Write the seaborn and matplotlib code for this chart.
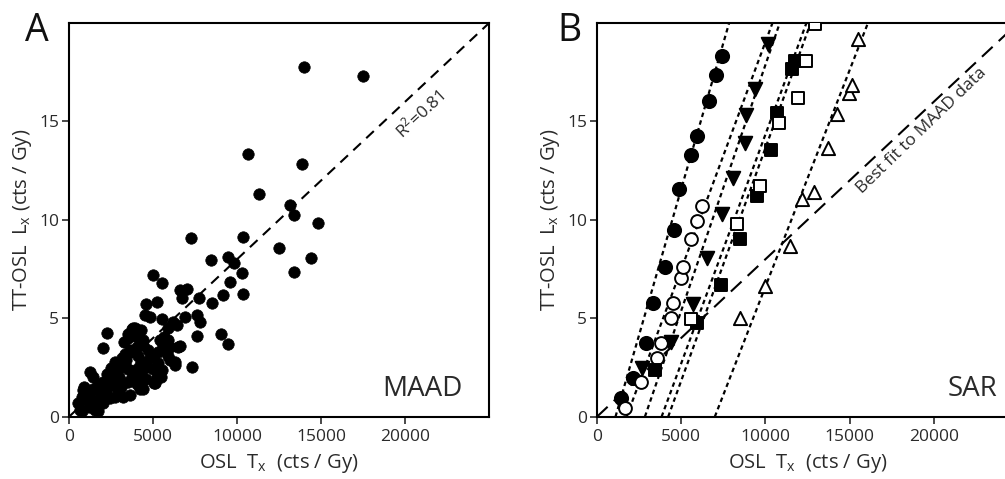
import numpy as np
import pandas as pd
import matplotlib
matplotlib.use("Agg")
import matplotlib.pyplot as plt
import seaborn as sns

# ---- Panel A: MAAD data, TT-OSL Lx vs OSL Tx ----
maad_tx = [14007, 17479, 10674, 13888, 11329, 13154, 13392, 14801, 7242, 10337,
           12519, 8432, 9484, 9841, 14384, 13392, 10317, 4980, 5516, 9583,
           6607, 7004, 10376, 9146, 6706, 7757, 5218, 8492, 4583, 4524,
           4821, 6904, 7599, 7797, 5555, 6210, 5912, 6408, 7599, 2282,
           3789, 4305, 9050, 9480, 7302,
           3730, 4126, 3928, 3531, 3273, 4226, 4424, 4067, 3630, 3333,
           3134, 2738, 4821, 4523, 4226, 3928, 3531, 3075, 2638, 2242,
           2539, 2043, 1746, 1448, 1408, 1845, 853, 754, 555, 1051,
           1349, 1547, 654, 2043, 2440, 2738, 2936, 3234, 3531, 3730,
           4067, 4622, 5019, 5416, 5614, 5773, 5317, 5118, 5515, 6309,
           6507, 6011, 5912, 5654, 2004,
           900, 1100, 1300, 1700, 1600, 2200, 2600, 3000, 3400, 3700,
           4100, 4300, 4600, 4700, 4400, 3900, 3500, 5000, 5300, 6300,
           6600, 5900, 2900, 2500, 2000, 1200, 800, 3100, 3600, 4200,
           5100, 5500, 6000, 5059, 5218, 4385, 3194, 4226, 1250]
maad_lx = [17.75, 17.29, 13.36, 12.85, 11.31, 10.76, 10.25, 9.83, 9.10, 9.15,
           8.56, 7.97, 8.09, 7.83, 8.05, 7.37, 7.29, 7.20, 6.81, 6.86,
           6.44, 6.47, 6.24, 6.19, 6.02, 6.02, 5.85, 5.80, 5.73, 5.17,
           5.08, 5.08, 5.17, 4.83, 4.95, 4.83, 4.49, 4.66, 4.10, 4.27,
           4.49, 4.41, 4.21, 3.68, 2.51,
           4.45, 4.41, 4.11, 3.99, 3.82, 3.90, 3.65, 3.53, 3.39, 3.19,
           2.97, 2.80, 2.97, 2.80, 2.63, 2.38, 2.41, 2.51, 2.29, 2.17,
           1.95, 1.78, 1.61, 2.04, 1.40, 1.19, 1.36, 1.02, 0.68, 0.85,
           0.60, 0.34, 0.34, 0.68, 0.94, 1.02, 1.36, 1.70, 1.78, 2.04,
           1.66, 2.55, 3.14, 3.90, 3.65, 3.39, 2.72, 1.78, 2.38, 2.63,
           3.56, 3.56, 3.90, 4.04, 3.48,
           1.5, 1.2, 0.9, 0.3, 0.7, 1.3, 1.6, 2.0, 2.9, 3.3,
           3.1, 2.2, 1.9, 3.4, 3.9, 4.5, 4.2, 2.4, 3.3, 2.8,
           3.6, 3.1, 2.6, 2.5, 1.0, 0.5, 0.3, 1.5, 1.1, 1.4,
           1.7, 2.0, 2.9, 1.70, 2.03, 1.39, 1.02, 2.03, 2.29]
maad_slope = 0.0008

# ---- Panel B: SAR data, one set per aliquot ----
fcirc_tx = [1423, 2115, 2886, 3340, 4032, 4546, 4883, 5555, 5950, 6661, 7057, 7452]
fcirc_lx = [0.94, 1.99, 3.77, 5.77, 7.63, 9.5, 11.57, 13.27, 14.25, 16.03, 17.34, 18.32]

ocirc_tx = [1660, 2590, 3538, 3795, 4388, 4526, 4962, 5080, 5555, 5911, 6207]
ocirc_lx = [0.45, 1.78, 2.97, 3.77, 5.0, 5.8, 7.04, 7.63, 9.03, 9.92, 10.69]

ftri_tx = [2650, 4388, 5673, 6543, 7452, 8084, 8776, 8875, 9410, 10160]
ftri_lx = [2.46, 3.82, 5.74, 8.06, 10.32, 12.13, 13.88, 15.32, 16.66, 18.92]

fsq_tx = [3439, 5911, 7393, 8480, 9527, 10358, 10692, 11603, 11741]
fsq_lx = [2.38, 4.78, 6.70, 9.03, 11.2, 13.54, 15.44, 17.65, 18.07]

osq_tx = [5555, 8320, 9666, 10811, 11937, 12394, 12927]
osq_lx = [4.96, 9.81, 11.7, 14.9, 16.2, 18.07, 19.94]

otri_tx = [8480, 9962, 11445, 12198, 12868, 13716, 14250, 14962, 15162, 15495]
otri_lx = [5.01, 6.65, 8.65, 11.07, 11.4, 13.66, 15.36, 16.46, 16.83, 19.21]

# fitted lines (x-intercept in cts/Gy, slope) in the order above
fit_x0 = [1100, 1761, 2846, 3837, 4228, 6997]
fit_slope = [0.002965, 0.00231, 0.002498, 0.002326, 0.002364, 0.0022]

xticks = [0, 5000, 10000, 15000, 20000]
yticks = [0, 5, 10, 15]

sns.set_style("ticks")
plt.rcParams['font.family'] = ['Open Sans', 'DejaVu Sans']
plt.rcParams['mathtext.default'] = 'regular'
plt.rcParams['axes.linewidth'] = 1.5

txt = '#2a2a2a'
fig = plt.figure(figsize=(10.05, 4.79), dpi=100)
axA = fig.add_axes([0.0687, 0.130, 0.418, 0.822])
axB = fig.add_axes([0.594, 0.130, 0.419, 0.822])

for ax in (axA, axB):
    ax.set_xlim(0, 25000)
    ax.set_ylim(0, 20)
    ax.set_xticks(xticks)
    ax.set_yticks(yticks)
    ax.tick_params(labelsize=12.5, length=5, width=1.2, colors=txt, pad=2)
    ax.tick_params(axis='x', pad=4)
    for sp in ax.spines.values():
        sp.set_visible(True)
        sp.set_color('k')
    ax.set_xlabel("OSL  T$_x$  (cts / Gy)", fontsize=14.5, color=txt, labelpad=5)
    ax.set_ylabel("TT-OSL  L$_x$ (cts / Gy)", fontsize=14.5, color=txt, labelpad=4)

# Panel A
axA.axline((0, 0), slope=maad_slope, color='k', lw=1.5, ls=(0, (5, 3.5)), zorder=2)
sns.scatterplot(x=maad_tx, y=maad_lx, ax=axA, color='k', s=68, edgecolor='k',
                linewidth=0.5, marker='o', zorder=3)
axA.text(20900, 15.4, "R$^2$=0.81", rotation=43, fontsize=12.5, ha='center', va='center',
         color=txt)
axA.text(0.938, 0.035, "MAAD", transform=axA.transAxes, fontsize=20, ha='right',
         va='bottom', color=txt)
fig.text(0.025, 0.915, "A", fontsize=27, color='#111111')

# Panel B
axB.axline((0, 0), slope=maad_slope, color='k', lw=1.5, ls=(0, (7, 4)), zorder=2)
for x0, sl in zip(fit_x0, fit_slope):
    axB.axline((x0, 0), slope=sl, color='k', lw=1.6, ls=(0, (2, 1.6)), zorder=2)

groups = [
    (fcirc_tx, fcirc_lx, 'o', 'k', 90),
    (ocirc_tx, ocirc_lx, 'o', 'white', 85),
    (ftri_tx, ftri_lx, 'v', 'k', 95),
    (fsq_tx, fsq_lx, 's', 'k', 70),
    (osq_tx, osq_lx, 's', 'white', 70),
    (otri_tx, otri_lx, '^', 'white', 90),
]
for tx, lx, mk, fc, sz in groups:
    sns.scatterplot(x=tx, y=lx, ax=axB, marker=mk, color=fc, edgecolor='k',
                    linewidth=1.4, s=sz, zorder=3)

axB.text(19300, 14.5, "Best fit to MAAD data", rotation=44, fontsize=12.5,
         ha='center', va='center', color=txt)
axB.text(0.952, 0.035, "SAR", transform=axB.transAxes, fontsize=20, ha='right',
         va='bottom', color=txt)
fig.text(0.555, 0.915, "B", fontsize=27, color='#111111')

fig.savefig("out.png", dpi=100, facecolor='white')
